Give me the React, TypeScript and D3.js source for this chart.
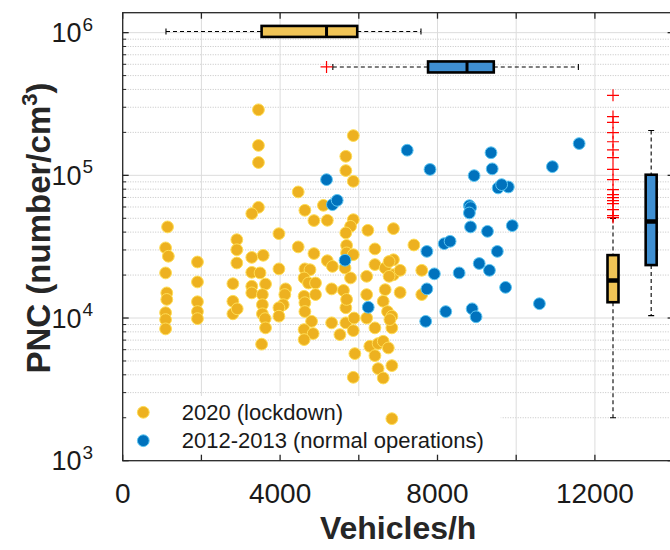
import React from "react";
import * as d3 from "d3";

const W = 670;
const H = 550;
const M = { left: 122.7, right: 673.6, top: 12.7, bottom: 460.7 };
const FONT = "'Liberation Sans', Arial, Helvetica, sans-serif";

const X_TICKS = [0, 2000, 4000, 6000, 8000, 10000, 12000, 14000];
const X_LABELS = [0, 4000, 8000, 12000];
const Y_DECADES = [1e3, 1e4, 1e5, 1e6];

// 2020 lockdown: [vehicles/h, PNC]
const lockdown: [number, number][] = [
  [3450, 288000], [3450, 162000], [3450, 123000], [5860, 190000], [5670, 136000],
  [5670, 108000], [5860, 90800], [4460, 76500], [5100, 61600], [3450, 59700],
  [3280, 53900], [4630, 56900], [4860, 48200], [5200, 48400], [5860, 48900],
  [5790, 43900], [5670, 39500], [6230, 41200], [6880, 42300], [3970, 39000],
  [1140, 43500], [1090, 31000], [1160, 27100], [1090, 20700], [1900, 24700],
  [2900, 35400], [2900, 30100], [2900, 24300], [3280, 26600], [3570, 27500],
  [3280, 20900], [4460, 31500], [4860, 28300], [5200, 25200], [5330, 23000],
  [5690, 32300], [5690, 28600], [5860, 27800], [6410, 30500], [6410, 23700],
  [6670, 22400], [6880, 25600], [3970, 22100], [4630, 22100], [4760, 21800],
  [6200, 19600], [5650, 22400], [1120, 15000], [1120, 13500], [1090, 10900],
  [1090, 9750], [1090, 8390], [1900, 17900], [1900, 13000], [1900, 11100],
  [1900, 9900], [2800, 17400], [2800, 13100], [2800, 10700], [2910, 11600],
  [3280, 16700], [3280, 15000], [3490, 20700], [3630, 17300], [3550, 14600],
  [3550, 12400], [3550, 10700], [3620, 9900], [3630, 8530], [3530, 6560],
  [4140, 16000], [4120, 14600], [4080, 12400], [3970, 11800], [3970, 10300],
  [4610, 19100], [4720, 17600], [4900, 17600], [4610, 14200], [4630, 12800],
  [4900, 14600], [4630, 11100], [4800, 9480], [4610, 8300], [4840, 7780],
  [4610, 7060], [5310, 16000], [5610, 15600], [5310, 9250], [5520, 7650],
  [5670, 11800], [5670, 9250], [5860, 8160], [5790, 19100], [5690, 13500],
  [5880, 10000], [6200, 14600], [6200, 10000], [6410, 8530], [6670, 15800],
  [6620, 13100], [6730, 11100], [6840, 10300], [6840, 8530], [6880, 20100],
  [7050, 21600], [7050, 15100], [6770, 24900], [5900, 5630], [5860, 3840],
  [6280, 6340], [6410, 5450], [6490, 6620], [6620, 6870], [6750, 6170],
  [6490, 4420], [6620, 3800], [6840, 4640], [6840, 1970], [7400, 32500],
  [6770, 19600], [7600, 21600], [7600, 14600], [6790, 9750],
];

// 2012-2013 normal operations
const normal: [number, number][] = [
  [5180, 93300], [5330, 62300], [5450, 66800], [5650, 25400], [6240, 11900],
  [7230, 150000], [7810, 110000], [8930, 99500], [9360, 144000], [9390, 111000],
  [9540, 81600], [9800, 82900], [9630, 86100], [10920, 115000], [11600, 167000],
  [8810, 61300], [8840, 59400], [8810, 54500], [8840, 43500], [9270, 40500],
  [9900, 44400], [9520, 29300], [7730, 29300], [8170, 33200], [8320, 34500],
  [9060, 24100], [9320, 21600], [8550, 20700], [7920, 20400], [7730, 16000],
  [9730, 16400], [10590, 12600], [8210, 11100], [8880, 11600], [8980, 10200],
  [7700, 9480],
];

// marginal box plots (vehicles/h along the top, PNC on the right)
const vehBoxes = [
  { y: 1.02e6, lo: 1100, q1: 3530, med: 5180, q3: 5960, hi: 7580, out: [] as number[], fill: "#F0C456" },
  { y: 5.75e5, lo: 5340, q1: 7760, med: 8750, q3: 9430, hi: 11580, out: [5180], fill: "#3F8FD2" },
];
const lockdownPncOutliers = [
  364000, 258000, 235000, 199000, 172000, 151000, 133000, 110000, 93300,
  79400, 73200, 69800, 66500, 63400, 57500, 52200, 50600,
];
const pncBoxes = [
  { x: 12460, lo: 2000, q1: 12900, med: 18300, q3: 27600, hi: 49800, out: lockdownPncOutliers, fill: "#F0C456" },
  { x: 13430, lo: 10400, q1: 23500, med: 47400, q3: 101000, hi: 206000, out: [] as number[], fill: "#3F8FD2" },
];

const series = [
  { name: "2020 (lockdown)", data: lockdown, fill: "#EDB120", stroke: "#FFDD55" },
  { name: "2012-2013 (normal operations)", data: normal, fill: "#0072BD", stroke: "#5CC6F2" },
];

const AXIS = "#262626";

function Plus({ cx, cy }: { cx: number; cy: number }) {
  return (
    <path
      d={`M${cx - 6},${cy}H${cx + 6}M${cx},${cy - 6}V${cy + 6}`}
      stroke="#FF0000"
      strokeWidth={1.2}
      fill="none"
    />
  );
}

export default function App() {
  const x = d3.scaleLinear().domain([0, 14000]).range([M.left, M.right]);
  const y = d3.scaleLog().domain([1e3, 1.38e6]).range([M.bottom, M.top]);

  const minor: number[] = [];
  Y_DECADES.forEach((d) => {
    for (let k = 2; k <= 9; k++) if (d * k < 1.38e6) minor.push(d * k);
  });

  const bw = 5.5; // half box thickness

  return (
    <svg
      width={W}
      height={H}
      style={{ position: "absolute", left: 0, top: 0, background: "#fff" }}
      fontFamily={FONT}
    >
      <defs>
        <clipPath id="plot">
          <rect x={M.left} y={M.top} width={M.right - M.left} height={M.bottom - M.top} />
        </clipPath>
      </defs>

      <g clipPath="url(#plot)">
        {/* grid */}
        {minor.map((v) => (
          <line key={"mn" + v} x1={M.left} x2={M.right} y1={y(v)} y2={y(v)}
            stroke="#c4c4c4" strokeWidth={1} strokeDasharray="1,1.5" />
        ))}
        {Y_DECADES.map((v) => (
          <line key={"mj" + v} x1={M.left} x2={M.right} y1={y(v)} y2={y(v)}
            stroke="#dcdcdc" strokeWidth={1} />
        ))}
        {X_TICKS.map((v) => (
          <line key={"gx" + v} x1={x(v)} x2={x(v)} y1={M.top} y2={M.bottom}
            stroke="#dcdcdc" strokeWidth={1} />
        ))}

        {/* legend background hides the grid */}
        <rect x={M.left + 1} y={396} width={377} height={M.bottom - 396} fill="#fff" />

        {/* horizontal box plots */}
        {vehBoxes.map((b, i) => {
          const yc = y(b.y);
          return (
            <g key={"hb" + i}>
              <line x1={x(b.lo)} x2={x(b.q1)} y1={yc} y2={yc} stroke="#000" strokeWidth={1.1} strokeDasharray="4,3" />
              <line x1={x(b.q3)} x2={x(b.hi)} y1={yc} y2={yc} stroke="#000" strokeWidth={1.1} strokeDasharray="4,3" />
              <line x1={x(b.lo)} x2={x(b.lo)} y1={yc - 3} y2={yc + 3} stroke="#000" strokeWidth={1.1} />
              <line x1={x(b.hi)} x2={x(b.hi)} y1={yc - 3} y2={yc + 3} stroke="#000" strokeWidth={1.1} />
              <rect x={x(b.q1)} y={yc - bw} width={x(b.q3) - x(b.q1)} height={2 * bw}
                fill={b.fill} stroke="#000" strokeWidth={2.6} />
              <line x1={x(b.med)} x2={x(b.med)} y1={yc - bw} y2={yc + bw} stroke="#000" strokeWidth={3} />
              {b.out.map((o) => <Plus key={o} cx={x(o)} cy={yc} />)}
            </g>
          );
        })}

        {/* vertical box plots */}
        {pncBoxes.map((b, i) => {
          const xc = x(b.x);
          return (
            <g key={"vb" + i}>
              <line x1={xc} x2={xc} y1={y(b.hi)} y2={y(b.q3)} stroke="#000" strokeWidth={1.1} strokeDasharray="4,3" />
              <line x1={xc} x2={xc} y1={y(b.q1)} y2={y(b.lo)} stroke="#000" strokeWidth={1.1} strokeDasharray="4,3" />
              <line x1={xc - 3} x2={xc + 3} y1={y(b.lo)} y2={y(b.lo)} stroke="#000" strokeWidth={1.1} />
              <line x1={xc - 3} x2={xc + 3} y1={y(b.hi)} y2={y(b.hi)} stroke="#000" strokeWidth={1.1} />
              <rect x={xc - bw} y={y(b.q3)} width={2 * bw} height={y(b.q1) - y(b.q3)}
                fill={b.fill} stroke="#000" strokeWidth={2.6} />
              <line x1={xc - bw} x2={xc + bw} y1={y(b.med)} y2={y(b.med)} stroke="#000" strokeWidth={4.5} />
              {b.out.map((o) => <Plus key={o} cx={xc} cy={y(o)} />)}
            </g>
          );
        })}

        {/* scatter */}
        {series.map((s) =>
          s.data.map(([vx, vy], j) => (
            <circle key={s.name + j} cx={x(vx)} cy={y(vy)} r={5.9}
              fill={s.fill} stroke={s.stroke} strokeWidth={1} />
          ))
        )}
      </g>

      {/* legend */}
      {series.map((s, i) => (
        <g key={"lg" + i}>
          <circle cx={143.3} cy={412.3 + i * 28.4} r={5.9} fill={s.fill} stroke={s.stroke} strokeWidth={1} />
          <text x={181.7} y={412.3 + i * 28.4} dominantBaseline="central" fontSize={22} fill="#1a1a1a">
            {s.name}
          </text>
        </g>
      ))}

      {/* axes box */}
      <rect x={M.left} y={M.top} width={M.right - M.left} height={M.bottom - M.top}
        fill="none" stroke={AXIS} strokeWidth={1.3} />
      {X_TICKS.map((v) => (
        <g key={"tx" + v}>
          <line x1={x(v)} x2={x(v)} y1={M.bottom} y2={M.bottom - 6} stroke={AXIS} strokeWidth={1.3} />
          <line x1={x(v)} x2={x(v)} y1={M.top} y2={M.top + 6} stroke={AXIS} strokeWidth={1.3} />
        </g>
      ))}
      {Y_DECADES.map((v) => (
        <g key={"ty" + v}>
          <line x1={M.left} x2={M.left + 6} y1={y(v)} y2={y(v)} stroke={AXIS} strokeWidth={1.3} />
          <line x1={M.right} x2={M.right - 6} y1={y(v)} y2={y(v)} stroke={AXIS} strokeWidth={1.3} />
        </g>
      ))}
      {minor.map((v) => (
        <g key={"tm" + v}>
          <line x1={M.left} x2={M.left + 3.5} y1={y(v)} y2={y(v)} stroke={AXIS} strokeWidth={1} />
          <line x1={M.right} x2={M.right - 3.5} y1={y(v)} y2={y(v)} stroke={AXIS} strokeWidth={1} />
        </g>
      ))}

      {/* tick labels */}
      {X_LABELS.map((v) => (
        <text key={"lx" + v} x={x(v)} y={503} textAnchor="middle" fontSize={28} fill="#1a1a1a">
          {d3.format("d")(v)}
        </text>
      ))}
      {Y_DECADES.map((v) => (
        <g key={"ly" + v}>
          <text x={81.5} y={y(v) + 9.5} textAnchor="end" fontSize={27} fill="#1a1a1a">10</text>
          <text x={82.5} y={y(v) - 2} fontSize={19} fill="#1a1a1a">{Math.round(Math.log10(v))}</text>
        </g>
      ))}

      {/* axis titles */}
      <text x={(M.left + M.right) / 2} y={539} textAnchor="middle" fontSize={32} fontWeight="bold" fill="#262626">
        Vehicles/h
      </text>
      <text transform="translate(50,228) rotate(-90)" textAnchor="middle" fontSize={33} fontWeight="bold" fill="#262626">
        PNC (number/cm<tspan dy={-13} fontSize={22}>3</tspan><tspan dy={13}>)</tspan>
      </text>
    </svg>
  );
}
